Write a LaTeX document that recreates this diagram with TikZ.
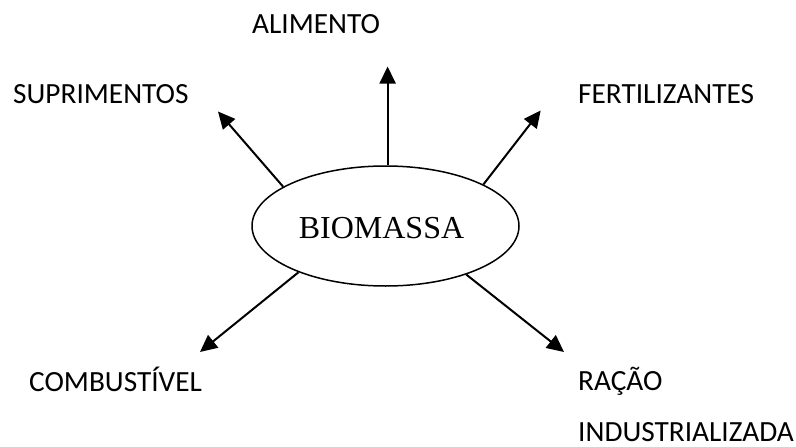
\documentclass[tikz,border=0pt]{standalone}
\usepackage{fontspec}
\setmainfont{Liberation Serif}
\newfontfamily\lbl{Carlito}
\usetikzlibrary{arrows.meta,shapes.geometric}
\tikzset{
  lab/.style={anchor=base west,inner sep=0pt,font=\lbl\fontsize{29.3}{35}\selectfont},
  conn/.style={line width=2pt,-{Triangle[length=17pt,width=16pt]}},
}
\begin{document}
\begin{tikzpicture}[x=1pt,y=-1pt]
\useasboundingbox (0,0) rectangle (796,447);
\node[ellipse,draw,line width=1.5pt,minimum width=267pt,minimum height=120pt,inner sep=0pt] (bio) at (385.5,226) {};
\node[anchor=base,inner sep=0pt,font=\fontsize{32}{38}\selectfont] (biot) at (381.5,238) {BIOMASSA};
\node[lab] (ali) at (252,33) {ALIMENTO};
\node[lab] (sup) at (13,103) {SUPRIMENTOS};
\node[lab] (fer) at (578,103) {FERTILIZANTES};
\node[lab] (com) at (29,391) {COMBUSTÍVEL};
\node[lab] (rac) at (578,390) {RAÇÃO};
\node[lab] (ind) at (578,441) {INDUSTRIALIZADA};
\coordinate (tT) at (387.7,66.5);
\coordinate (tUL) at (218,111.5);
\coordinate (tUR) at (540.7,110.5);
\coordinate (tLL) at (200,352);
\coordinate (tLR) at (564,352);
\draw[conn] (bio.88) -- (bio.88 |- tT);
\draw[conn] (bio.159) -- (tUL);
\draw[conn] (bio.23) -- (tUR);
\draw[conn] (bio.208.7) -- (tLL);
\draw[conn] (bio.329.6) -- (tLR);
\end{tikzpicture}
\end{document}
